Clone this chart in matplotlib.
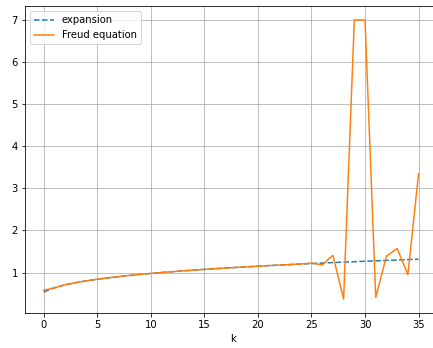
import matplotlib
matplotlib.use("Agg")
import matplotlib.pyplot as plt

k = list(range(36))
expansion = [0.537, 0.639, 0.707, 0.760, 0.803, 0.841, 0.874, 0.904, 0.931, 0.955,
             0.979, 1.000, 1.020, 1.039, 1.057, 1.075, 1.091, 1.107, 1.122, 1.136,
             1.150, 1.164, 1.177, 1.189, 1.201, 1.213, 1.225, 1.236, 1.247, 1.257,
             1.268, 1.278, 1.288, 1.297, 1.307, 1.316]
freud = [0.581, 0.634, 0.711, 0.761, 0.802, 0.842, 0.873, 0.904, 0.930, 0.956,
         0.978, 1.000, 1.020, 1.039, 1.057, 1.075, 1.091, 1.107, 1.122, 1.136,
         1.150, 1.164, 1.177, 1.189, 1.203, 1.225, 1.18, 1.41, 0.37, 7.0,
         7.0, 0.41, 1.39, 1.57, 0.95, 3.35]

fig = plt.figure(figsize=(433 / 72, 348 / 72), dpi=72)
ax = fig.add_axes([25 / 433, 35 / 348, 415 / 433, 307 / 348])
ax.plot(k, expansion, "--", color="C0", label="expansion")
ax.plot(k, freud, "-", color="C1", label="Freud equation")
ax.set_xlim(-1.75, 37.0)
ax.spines["right"].set_visible(False)
ax.set_xlabel("k")
ax.grid(True)
ax.legend(loc="upper left")
fig.savefig("out.png", dpi=72)
